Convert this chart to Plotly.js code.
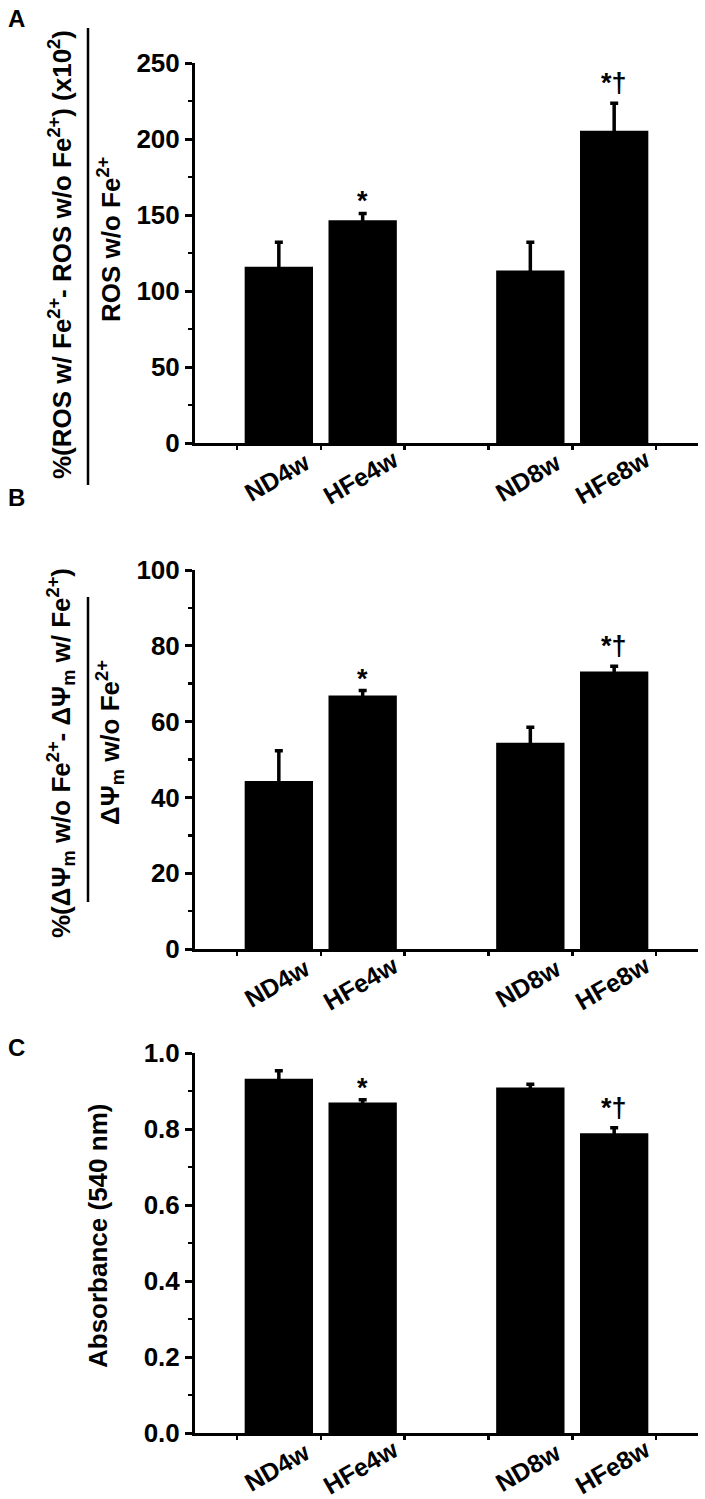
<!DOCTYPE html>
<html><head><meta charset="utf-8">
<script src="https://cdn.plot.ly/plotly-3.0.1.min.js"></script>
<style>html,body{margin:0;padding:0;background:#fff}</style>
</head><body>
<div id="chart" style="width:705px;height:1499px"></div>
<script>
// ---- data ----
const groups = ['ND4w', 'HFe4w', 'ND8w', 'HFe8w'];
const barPos = [0.5, 1.5, 3.5, 4.5];
const rosValues = [116, 146.5, 113.5, 205.5];
const rosErrors = [16, 4.5, 18.5, 18];
const psiValues = [44.3, 66.9, 54.4, 73.2];
const psiErrors = [8, 1.3, 4.1, 1.4];
const absValues = [0.932, 0.870, 0.909, 0.789];
const absErrors = [0.021, 0.007, 0.009, 0.014];
const sigMarks = ['', '*', '', '*\u2020'];
const panelLetters = ['A', 'B', 'C'];
const xTickVals = [0, 1, 2, 3, 4, 5];

// ---- layout helpers ----
const W = 705, H = 1499;
const px = p => p / W;
const py = p => 1 - p / H;
const FONT = 'Liberation Sans, Arial, Helvetica, sans-serif';

const panels = [
  {values: rosValues, errors: rosErrors, range: [0, 250], dtick: 50, minor: 25, top: 63, bottom: 443, tickformat: ''},
  {values: psiValues, errors: psiErrors, range: [0, 100], dtick: 20, minor: 10, top: 570, bottom: 949, tickformat: ''},
  {values: absValues, errors: absErrors, range: [0, 1.0], dtick: 0.2, minor: 0.1, top: 1053, bottom: 1433, tickformat: '.1f'}
];

const data = [];
const layout = {
  width: W, height: H,
  margin: {l: 0, r: 0, t: 0, b: 0},
  paper_bgcolor: '#fff', plot_bgcolor: '#fff',
  showlegend: false,
  font: {family: FONT, color: '#000'},
  annotations: [], shapes: []
};

panels.forEach((p, i) => {
  const n = i === 0 ? '' : String(i + 1);
  data.push({
    type: 'bar', x: barPos, y: p.values, width: 0.815,
    xaxis: 'x' + n, yaxis: 'y' + n,
    marker: {color: '#000', line: {width: 0}},
    error_y: {type: 'data', array: p.errors, symmetric: true, color: '#000', thickness: 3.5, width: 4},
    hoverinfo: 'skip'
  });
  layout['xaxis' + n] = {
    domain: [px(195), px(698)], range: [-0.5, 5.5], anchor: 'y' + n,
    tickmode: 'array', tickvals: xTickVals, showticklabels: false,
    ticks: 'outside', ticklen: 4, tickwidth: 2.5, tickcolor: '#000',
    showline: true, linewidth: 3, linecolor: '#000',
    showgrid: false, zeroline: false, fixedrange: true
  };
  layout['yaxis' + n] = {
    domain: [py(p.bottom), py(p.top)], range: p.range, anchor: 'x' + n,
    dtick: p.dtick, tick0: 0, tickformat: p.tickformat,
    ticks: 'outside', ticklen: 7, tickwidth: 3, tickcolor: '#000',
    minor: {dtick: p.minor, ticks: 'outside', ticklen: 4, tickwidth: 2.5, tickcolor: '#000'},
    tickfont: {family: FONT, size: 26, color: '#000', weight: 'bold'},
    showline: true, linewidth: 3, linecolor: '#000',
    showgrid: false, zeroline: false, fixedrange: true
  };
  groups.forEach((g, k) => {
    layout.annotations.push({
      xref: 'x' + n, yref: 'paper', x: barPos[k], y: py(p.bottom + 34),
      xshift: -2, text: g, textangle: -30, showarrow: false,
      xanchor: 'center', yanchor: 'middle',
      font: {family: FONT, size: 25, color: '#000', weight: 'bold'}
    });
    if (sigMarks[k]) {
      layout.annotations.push({
        xref: 'x' + n, yref: 'y' + n, x: barPos[k], y: p.values[k] + p.errors[k],
        text: sigMarks[k], showarrow: false, xanchor: 'center', yanchor: 'bottom',
        yshift: sigMarks[k].length > 1 ? 3 : -5,
        font: {family: FONT, size: 27, color: '#000', weight: 'bold'}
      });
    }
  });
  layout.annotations.push({
    xref: 'paper', yref: 'paper', x: px(16), y: py([19, 497, 1047][i]),
    text: panelLetters[i], showarrow: false, xanchor: 'center', yanchor: 'middle',
    font: {family: FONT, size: 24, color: '#000', weight: 'bold'}
  });
});

// y-axis titles
const titleFont = {family: FONT, size: 26, color: '#000', weight: 'bold'};
function vtext(text, x, y) {
  layout.annotations.push({xref: 'paper', yref: 'paper', x: px(x), y: py(y), text: text,
    textangle: -90, showarrow: false, xanchor: 'center', yanchor: 'middle', font: titleFont});
}
vtext('%(ROS w/ Fe<sup>2+</sup>- ROS w/o Fe<sup>2+</sup>) (x10<sup>2</sup>)', 61, 255);
vtext('ROS w/o Fe<sup>2+</sup>', 110, 240);
vtext('%(\u0394\u03A8<sub>m</sub> w/o Fe<sup>2+</sup>- \u0394\u03A8<sub>m</sub> w/ Fe<sup>2+</sup>)', 61, 753);
vtext('\u0394\u03A8<sub>m</sub> w/o Fe<sup>2+</sup>', 110, 743);
vtext('Absorbance (540 nm)', 98, 1236);
layout.shapes.push({type: 'line', xref: 'paper', yref: 'paper', x0: px(88), x1: px(88), y0: py(28), y1: py(485), line: {color: '#000', width: 2.5}});
layout.shapes.push({type: 'line', xref: 'paper', yref: 'paper', x0: px(88), x1: px(88), y0: py(597), y1: py(902), line: {color: '#000', width: 2.5}});

Plotly.newPlot('chart', data, layout, {staticPlot: true, displayModeBar: false});
</script>
</body></html>
